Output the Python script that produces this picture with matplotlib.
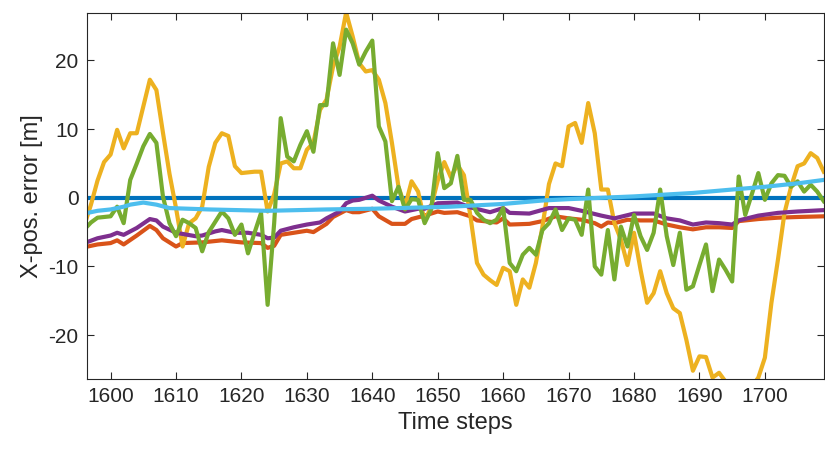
"""X-position error over time steps (MATLAB-style line plot)."""
import matplotlib
matplotlib.use("Agg")
import matplotlib.pyplot as plt

# --- data ----------------------------------------------------------------
blue_t = [1596, 1620, 1650, 1680, 1709]
blue_y = [0.0, 0.0, 0.0, 0.0, 0.0]

red_t = [1596, 1598, 1600, 1601, 1602, 1604, 1606, 1607, 1608, 1610, 1611, 1614,
         1617, 1620, 1623, 1624, 1625, 1626, 1628, 1630, 1631, 1633, 1634, 1636,
         1637, 1638, 1640, 1641, 1643, 1645, 1646, 1648, 1650, 1651, 1653, 1655,
         1656, 1659, 1660, 1661, 1664, 1666, 1668, 1670, 1672, 1674, 1675, 1676,
         1677, 1679, 1681, 1683, 1685, 1687, 1689, 1691, 1693, 1695, 1696, 1699,
         1702, 1705, 1709]
red_y = [-7.2, -6.8, -6.6, -6.2, -6.8, -5.5, -4.1, -4.7, -5.9, -7.1, -6.6, -6.5,
         -6.2, -6.5, -6.6, -7.3, -7.0, -5.4, -5.1, -4.8, -5.0, -3.8, -2.8, -1.8,
         -2.1, -2.1, -1.6, -2.7, -3.8, -3.8, -3.1, -2.6, -2.0, -2.2, -2.1, -2.7,
         -3.3, -3.6, -3.0, -3.9, -3.8, -3.4, -2.7, -3.0, -3.2, -3.7, -4.2, -3.6,
         -3.7, -3.2, -3.3, -3.3, -3.9, -4.3, -4.6, -4.3, -4.3, -4.4, -3.4, -3.1,
         -2.9, -2.8, -2.7]

yellow_t = list(range(1596, 1710))
yellow_y = [-4.0, -1.0, 2.5, 5.2, 6.3, 9.9, 7.2, 9.4, 9.4, 13.3, 17.2, 15.7,
            9.5, 3.5, -1.5, -7.1, -3.7, -3.0, -1.3, 4.5, 8.0, 9.4, 9.0, 4.6,
            3.6, 3.7, 3.8, 3.8, -2.0, 0.5, 5.0, 5.3, 4.3, 4.3, 7.0, 8.0,
            12.8, 14.3, 19.1, 22.0, 27.0, 23.5, 19.6, 18.4, 18.6, 17.2, 13.8, 8.0,
            1.6, -1.3, 2.4, 0.9, -3.4, -1.3, 2.5, 5.2, 3.0, 4.8, 3.3, -2.7,
            -9.5, -11.2, -12.0, -12.7, -10.2, -10.7, -15.6, -11.9, -13.1, -9.5, -4.2, 2.0,
            5.0, 4.6, 10.4, 10.9, 8.0, 13.8, 9.4, 1.2, 1.2, -3.7, -6.1, -9.8,
            -5.1, -10.5, -15.3, -13.9, -10.7, -13.9, -16.1, -16.8, -20.7, -25.2, -23.1, -23.2,
            -26.2, -25.5, -26.8, -28.5, -29.5, -29.0, -27.5, -26.2, -23.3, -15.3, -9.0, -2.2,
            1.6, 4.6, 5.0, 6.5, 5.8, 3.8]

purple_t = [1596, 1598, 1600, 1601, 1602, 1604, 1606, 1607, 1608, 1610, 1613, 1614,
            1616, 1617, 1619, 1621, 1623, 1624, 1625, 1626, 1628, 1630, 1632, 1633,
            1635, 1636, 1637, 1638, 1640, 1641, 1643, 1645, 1647, 1648, 1650, 1653,
            1655, 1658, 1660, 1661, 1664, 1667, 1670, 1672, 1675, 1677, 1680, 1683,
            1685, 1687, 1689, 1691, 1693, 1695, 1696, 1699, 1702, 1705, 1709]
purple_y = [-6.6, -5.9, -5.5, -5.1, -5.4, -4.4, -3.1, -3.3, -4.2, -5.1, -5.6, -5.5,
            -4.9, -4.7, -5.1, -5.1, -5.4, -5.9, -5.8, -4.8, -4.3, -3.9, -3.6, -3.0,
            -2.0, -0.8, -0.4, -0.3, 0.3, -0.4, -1.3, -2.0, -1.6, -1.6, -0.8, -0.7,
            -1.4, -2.1, -1.5, -2.2, -2.3, -1.5, -1.5, -1.9, -2.6, -3.0, -2.3, -2.3,
            -3.0, -3.3, -3.9, -3.6, -3.7, -3.9, -3.3, -2.6, -2.2, -2.0, -1.8]

green_t = list(range(1596, 1710))
green_y = [-4.6, -3.6, -2.9, -2.8, -2.7, -1.3, -3.7, 2.6, 5.0, 7.5, 9.3, 8.0,
           0.2, -3.7, -5.6, -3.2, -3.7, -4.4, -7.8, -5.0, -3.5, -2.0, -3.0, -5.4,
           -3.9, -8.1, -5.1, -2.2, -15.6, -3.7, 11.6, 6.0, 5.3, 7.7, 9.7, 6.7,
           13.5, 13.5, 22.5, 17.9, 24.5, 22.5, 19.4, 21.3, 22.9, 10.4, 8.2, -0.5,
           1.6, -1.7, -0.2, -0.3, -3.7, -1.7, 6.5, 1.4, 2.1, 6.1, -0.3, -0.3,
           -2.2, -3.2, -3.7, -3.2, -1.5, -9.5, -10.7, -8.3, -7.3, -8.3, -4.7, -3.7,
           -1.7, -4.7, -3.0, -3.2, -5.4, 1.2, -10.0, -11.2, -4.7, -11.9, -4.2, -7.1,
           -2.5, -5.6, -7.6, -5.1, 1.2, -5.6, -9.8, -5.1, -13.4, -12.9, -9.8, -6.8,
           -13.6, -9.0, -10.5, -12.2, 3.1, -2.5, 0.5, 3.6, -0.3, 2.1, 3.3, 3.2,
           1.6, 2.4, 0.9, 1.9, 0.9, -0.5]

cyan_t = [1596, 1598, 1600, 1601, 1602, 1603, 1605, 1607, 1609, 1615, 1624, 1633,
          1640, 1652, 1660, 1666, 1670, 1680, 1689, 1695, 1700, 1705, 1709]
cyan_y = [-2.3, -1.9, -1.7, -1.5, -1.3, -1.0, -0.7, -1.0, -1.5, -1.7, -1.9, -1.7,
          -1.6, -1.3, -0.9, -0.4, -0.2, 0.2, 0.7, 1.2, 1.6, 2.1, 2.6]

x_ticks = [1600, 1610, 1620, 1630, 1640, 1650, 1660, 1670, 1680, 1690, 1700]
y_ticks = [-20, -10, 0, 10, 20]

# --- plot ------------------------------------------------------------------
plt.rcParams["font.family"] = ["Liberation Sans", "DejaVu Sans"]
plt.rcParams["axes.unicode_minus"] = False
axis_col = "#262626"

fig = plt.figure(figsize=(8.25, 4.53), dpi=100)
ax = fig.add_axes([0.1055, 0.1634, 0.893, 0.8076])

lw = 3.0
ax.plot(blue_t, blue_y, color="#0072BD", lw=lw)
ax.plot(red_t, red_y, color="#D95319", lw=lw)
ax.plot(yellow_t, yellow_y, color="#EDB120", lw=lw)
ax.plot(purple_t, purple_y, color="#7E2F8E", lw=lw)
ax.plot(green_t, green_y, color="#77AC30", lw=lw)
ax.plot(cyan_t, cyan_y, color="#4DBEEE", lw=lw)

ax.set_xlim(1596.4, 1709.0)
ax.set_ylim(-26.4, 26.9)
ax.set_xticks(x_ticks)
ax.set_yticks(y_ticks)
ax.tick_params(direction="in", length=5, width=0.8, colors=axis_col,
               labelsize=15, top=True, right=True, pad=6)
for s in ax.spines.values():
    s.set_color(axis_col)
    s.set_linewidth(0.8)

ax.set_xlabel("Time steps", fontsize=17, color=axis_col, labelpad=4)
ax.set_ylabel("X-pos. error [m]", fontsize=17, color=axis_col, labelpad=4)

fig.savefig("out.png", dpi=100)
